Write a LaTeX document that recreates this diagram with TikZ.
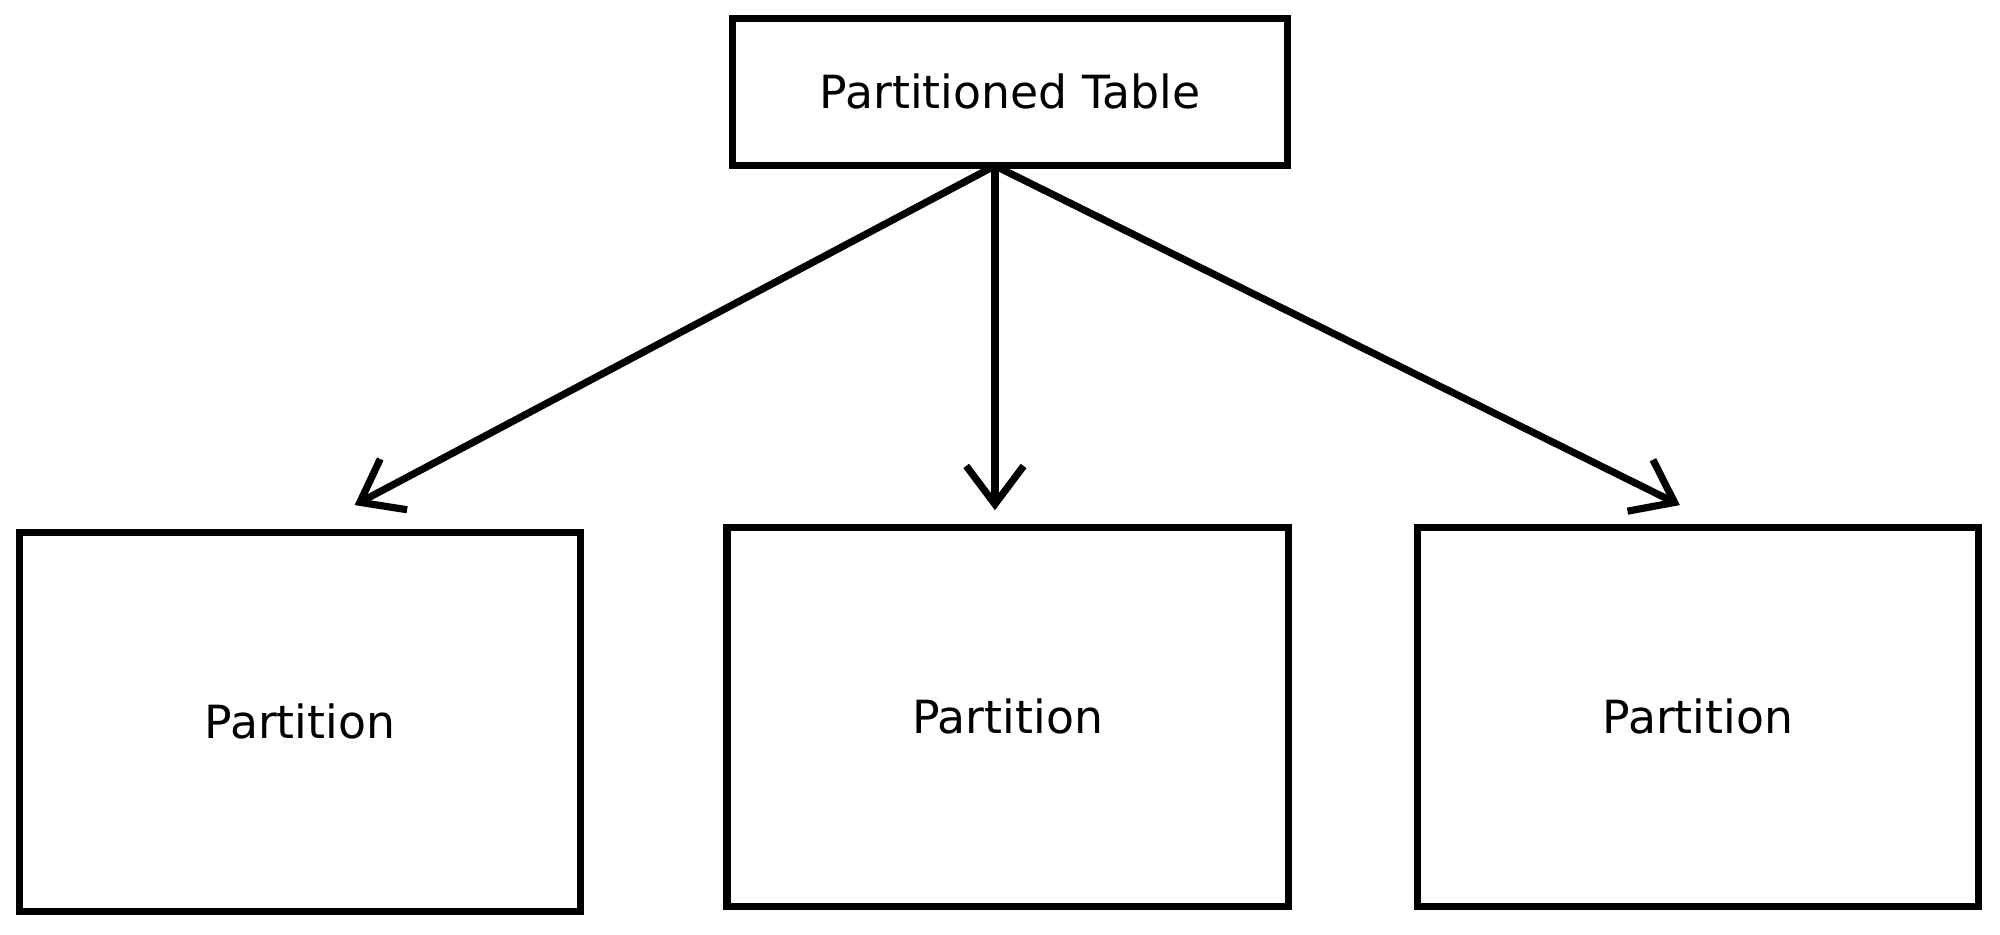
\documentclass[tikz,border=0pt]{standalone}
\usepackage{fontspec}
\setmainfont{DejaVu Sans}
\usetikzlibrary{arrows.meta}
\tikzset{
    box/.style={draw, line width=1.6pt, minimum width=4.4cm, minimum height=2.97cm, font=\fontsize{10.2}{12}\selectfont},
    link/.style={line width=1.6pt, -{Straight Barb[length=0.3cm,width=0.45cm,line width=1.6pt]}}
}
\begin{document}
\begin{tikzpicture}
    \useasboundingbox (0,0) rectangle (15.68,7.33);

    % Table and its partitions
    \node[box, minimum width=4.35cm, minimum height=1.15cm] (table) at (7.92,6.61) {Partitioned Table};
    \node[box] (left) at (2.35,1.67) {Partition};
    \node[box] (mid) at (7.90,1.71) {Partition};
    \node[box] (right) at (13.31,1.71) {Partition};

    % Arrow ends
    \coordinate (top) at (7.80,6.03);
    \coordinate (endL) at (2.78,3.37);
    \coordinate (endM) at (7.80,3.33);
    \coordinate (endR) at (13.17,3.37);

    % Arrows
    \draw[link] (top) -- (endL);
    \draw[link] (top) -- (endM);
    \draw[link] (top) -- (endR);
\end{tikzpicture}
\end{document}
